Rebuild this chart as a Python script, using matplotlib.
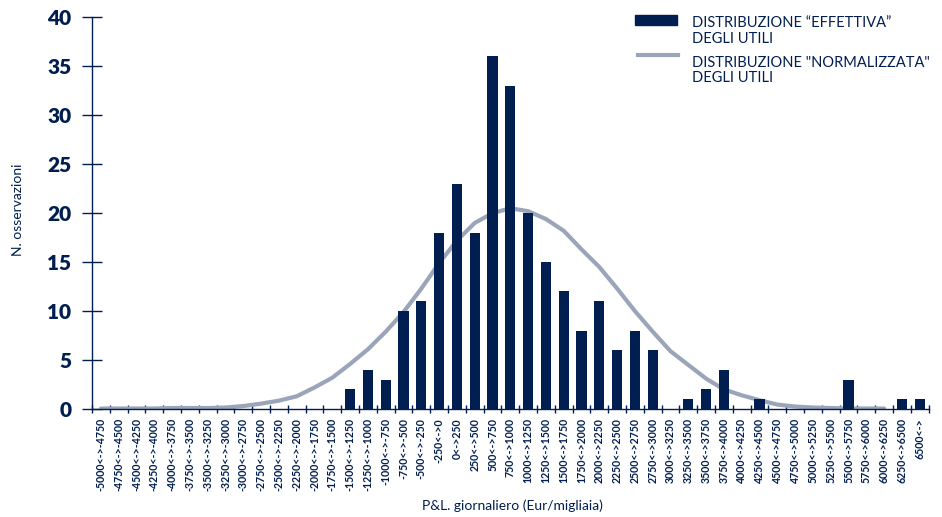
import matplotlib.pyplot as plt
from matplotlib.patches import Rectangle
from matplotlib.lines import Line2D

# classi di P&L giornaliero (Eur/migliaia)
categorie = [
    '-5000<->-4750', '-4750<->-4500', '-4500<->-4250', '-4250<->-4000',
    '-4000<->-3750', '-3750<->-3500', '-3500<->-3250', '-3250<->-3000',
    '-3000<->-2750', '-2750<->-2500', '-2500<->-2250', '-2250<->-2000',
    '-2000<->-1750', '-1750<->-1500', '-1500<->-1250', '-1250<->-1000',
    '-1000<->-750', '-750<->-500', '-500<->-250', '-250<->0',
    '0<->250', '250<->500', '500<->750', '750<->1000',
    '1000<->1250', '1250<->1500', '1500<->1750', '1750<->2000',
    '2000<->2250', '2250<->2500', '2500<->2750', '2750<->3000',
    '3000<->3250', '3250<->3500', '3500<->3750', '3750<->4000',
    '4000<->4250', '4250<->4500', '4500<->4750', '4750<->5000',
    '5000<->5250', '5250<->5500', '5500<->5750', '5750<->6000',
    '6000<->6250', '6250<->6500', '6500<->',
]

# distribuzione effettiva (n. osservazioni)
osservazioni = [
    0, 0, 0, 0, 0, 0, 0, 0, 0, 0, 0, 0, 0, 0,
    2, 4, 3, 10, 11, 18, 23, 18, 36, 33, 20, 15, 12, 8, 11, 6, 8, 6,
    0, 1, 2, 4, 0, 1, 0, 0, 0, 0, 3, 0, 0, 1, 1,
]

# distribuzione normalizzata
normale = [
    0.05, 0.05, 0.05, 0.05, 0.1, 0.1, 0.1, 0.15, 0.3, 0.55, 0.85, 1.3,
    2.2, 3.2, 4.6, 6.1, 7.9, 9.9, 12.3, 14.9, 17.2, 19.0, 20.0, 20.5,
    20.2, 19.4, 18.2, 16.3, 14.5, 12.3, 10.0, 7.9, 5.9, 4.5, 3.1, 2.0,
    1.4, 0.9, 0.45, 0.25, 0.15, 0.1, 0.05, 0.05, 0.05,
]

navy = '#001e50'
grigio = '#9aa5b9'

plt.rcParams['font.family'] = ['Lato', 'DejaVu Sans']

fig = plt.figure(figsize=(9.42, 5.17), dpi=100)
ax = fig.add_axes([0.0977, 0.2089, 0.8881, 0.7576])

ax.plot(range(len(normale)), normale, color=grigio, lw=3,
        solid_capstyle='round', zorder=2)
ax.bar(range(len(categorie)), osservazioni, width=0.57, color=navy, zorder=3)

ax.set_xlim(-0.5, len(categorie) - 0.5)
ax.set_ylim(0, 40)
ax.set_yticks(range(0, 41, 5))
ax.set_xticks(range(len(categorie)))
ax.set_xticks([i - 0.5 for i in range(len(categorie) + 1)], minor=True)
ax.set_xticklabels(categorie, rotation=90, fontsize=7.6, color=navy,
                   fontweight='bold')
for t in ax.get_yticklabels():
    t.set_fontweight('heavy')
ax.tick_params(axis='x', which='major', length=0, pad=6.5)
ax.tick_params(axis='x', which='minor', direction='inout', length=6,
               width=1, color=navy)
ax.tick_params(axis='y', direction='inout', length=13.7, width=1,
               color=navy, labelcolor=navy, labelsize=15, pad=8)

for s in ['top', 'right']:
    ax.spines[s].set_visible(False)
for s in ['left', 'bottom']:
    ax.spines[s].set_color(navy)
    ax.spines[s].set_linewidth(1)

fig.text(0.019, 0.594, 'N. osservazioni', rotation=90, ha='center',
         va='center', fontsize=10, color=navy)
fig.text(0.5435, 0.0213, 'P&L. giornaliero (Eur/migliaia)', ha='center',
         va='center', fontsize=10, color=navy)

# legenda
fig.add_artist(Rectangle((635 / 942, 1 - 25 / 517), 42 / 942, 10 / 517,
                         transform=fig.transFigure, color=navy))
fig.add_artist(Line2D([638 / 942, 678 / 942], [1 - 55 / 517, 1 - 55 / 517],
                      transform=fig.transFigure, color=grigio, lw=3))
righe = [('DISTRIBUZIONE \u201cEFFETTIVA\u201d', 26.7),
         ('DEGLI UTILI', 43.3),
         ('DISTRIBUZIONE "NORMALIZZATA"', 66.7),
         ('DEGLI UTILI', 81.7)]
for testo, yb in righe:
    fig.text(692 / 942, 1 - yb / 517, testo, ha='left', va='baseline',
             fontsize=10.5, color=navy)

fig.savefig('out.png', dpi=100)
